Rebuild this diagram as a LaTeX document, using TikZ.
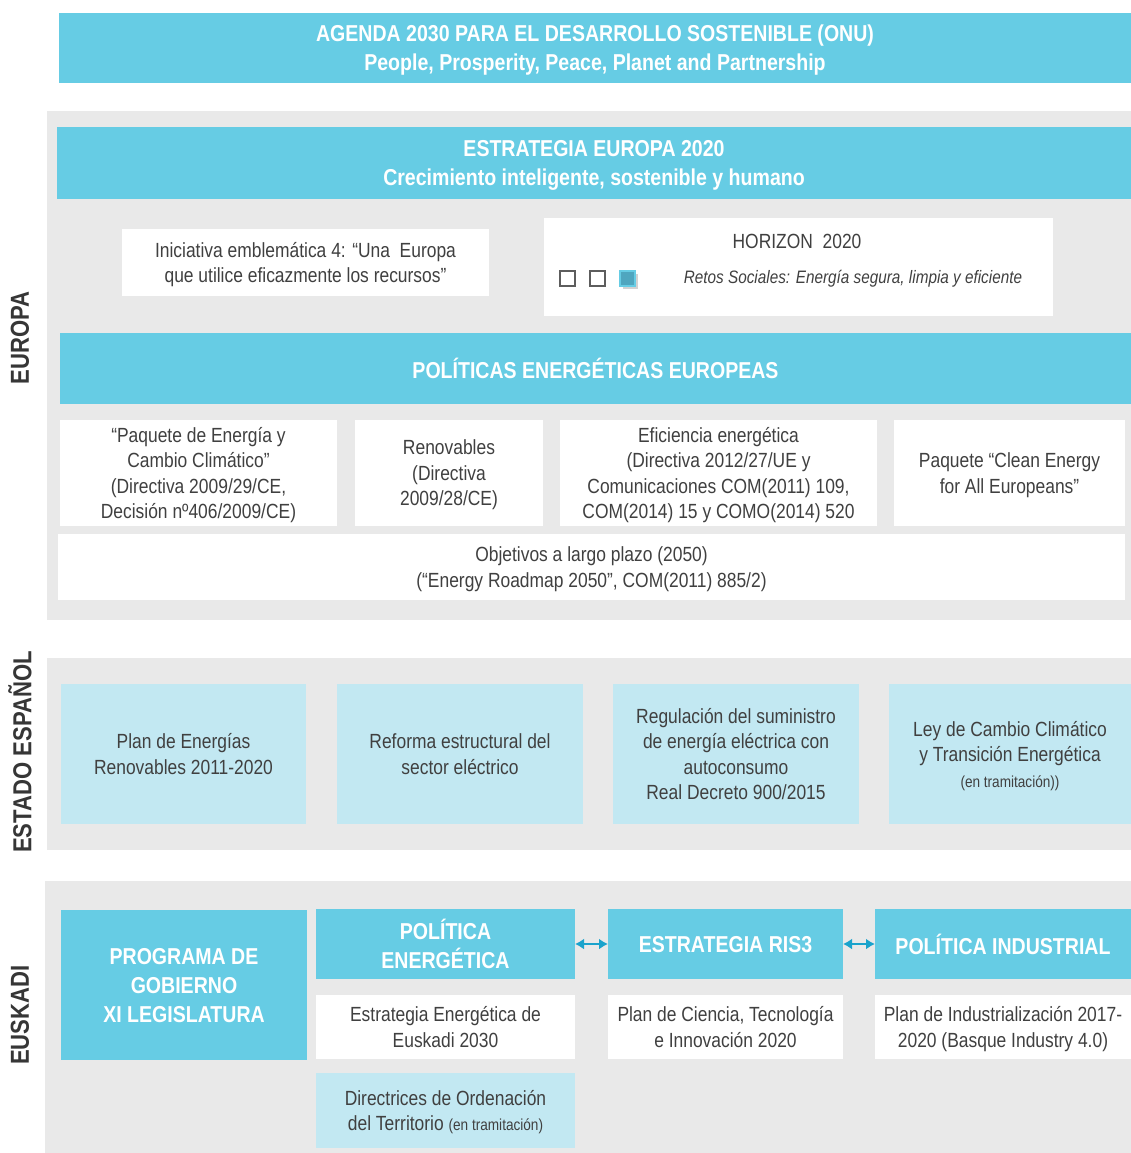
\documentclass[tikz,border=0pt]{standalone}
\usepackage{fontspec}
\setmainfont{Liberation Sans}[FakeStretch=0.85]
\usepackage{tikz}
\usetikzlibrary{arrows.meta,shadows}

\definecolor{cyanbox}{HTML}{66CCE4}
\definecolor{lightbox}{HTML}{C2E8F2}
\definecolor{panel}{HTML}{E9E9E9}
\definecolor{txt}{HTML}{404040}
\definecolor{arrowblue}{HTML}{1AA3CC}
\definecolor{squarefill}{HTML}{4FA6BF}

\tikzset{
  headbox/.style={fill=cyanbox,text=white,font=\fontsize{23}{29}\selectfont\bfseries,align=center,inner sep=0pt,outer sep=0pt,text depth=0pt},
  whitebox/.style={fill=white,text=txt,font=\fontsize{20.5}{25.5}\selectfont,align=center,inner sep=0pt,outer sep=0pt,text depth=0pt},
  softbox/.style={whitebox,fill=lightbox},
  sidelabel/.style={rotate=90,text=txt!85!black,font=\fontsize{26}{30}\selectfont\bfseries},
  sqbox/.style={draw=txt!85,line width=1.4pt,minimum size=15pt,inner sep=0pt},
  link/.style={arrowblue,line width=2.5pt,{Latex[length=9pt,width=11pt]}-{Latex[length=9pt,width=11pt]}},
}
\newcommand{\smalltxt}{\fontsize{16}{20}\selectfont}

\begin{document}
\begin{tikzpicture}[x=1pt,y=-1pt]
\useasboundingbox[fill=white] (0,0) rectangle (1131,1153);

% ONU
\node[headbox,minimum width=1072pt,minimum height=70pt] (agenda) at (595,48)
  {AGENDA 2030 PARA EL DESARROLLO SOSTENIBLE (ONU)\\ People, Prosperity, Peace, Planet and Partnership};

% Europa
\fill[panel] (47,111) rectangle (1131,620);
\node[sidelabel] (europa) at (20,338) {EUROPA};
\node[headbox,minimum width=1074pt,minimum height=71pt] (estrategia) at (594,163)
  {ESTRATEGIA EUROPA 2020\\ Crecimiento inteligente, sostenible y humano};
\node[whitebox,minimum width=367pt,minimum height=67pt] (iniciativa) at (305.5,262.5)
  {Iniciativa emblem\'atica 4: “Una\ \ Europa\\ que utilice eficazmente los recursos”};
\node[whitebox,minimum width=509pt,minimum height=98pt] (horizon) at (798.5,267) {};
\node[text=txt,font=\fontsize{20.5}{25}\selectfont] (horizontitle) at (797,241) {HORIZON\ \ 2020};
\node[sqbox] (sqa) at (567.5,278.5) {};
\node[sqbox] (sqb) at (597.5,278.5) {};
\node[sqbox,draw=cyanbox,fill=squarefill,drop shadow={opacity=0.35}] (sqc) at (627.5,278.5) {};
\node[text=txt,font=\fontsize{18}{22}\selectfont\itshape] (retos) at (853,279)
  {Retos Sociales: Energía segura, limpia y eficiente};
\node[headbox,minimum width=1071pt,minimum height=71pt] (politicas) at (595.5,368.5)
  {POLÍTICAS ENERGÉTICAS EUROPEAS};
\node[whitebox,minimum width=277pt,minimum height=106pt] (paquete) at (198.5,473)
  {“Paquete de Energía y\\ Cambio Climático”\\ (Directiva 2009/29/CE,\\ Decisión nº406/2009/CE)};
\node[whitebox,minimum width=188pt,minimum height=106pt] (renovables) at (449,473)
  {Renovables\\ (Directiva\\ 2009/28/CE)};
\node[whitebox,minimum width=317pt,minimum height=106pt] (eficiencia) at (718.5,473)
  {Eficiencia energética\\ (Directiva 2012/27/UE y\\ Comunicaciones COM(2011) 109,\\ COM(2014) 15 y COMO(2014) 520};
\node[whitebox,minimum width=231pt,minimum height=106pt] (clean) at (1009.5,473)
  {Paquete “Clean Energy\\ for All Europeans”};
\node[whitebox,minimum width=1067pt,minimum height=66pt] (objetivos) at (591.5,567)
  {Objetivos a largo plazo (2050)\\ (“Energy Roadmap 2050”, COM(2011) 885/2)};

% Estado
\fill[panel] (47,658) rectangle (1131,850);
\node[sidelabel] (estado) at (20,752) {ESTADO ESPAÑOL};
\node[softbox,minimum width=245pt,minimum height=140pt] (plan) at (183.5,754)
  {Plan de Energías\\ Renovables 2011-2020};
\node[softbox,minimum width=246pt,minimum height=140pt] (reforma) at (460,754)
  {Reforma estructural del\\ sector eléctrico};
\node[softbox,minimum width=246pt,minimum height=140pt] (regulacion) at (736,754)
  {Regulación del suministro\\ de energía eléctrica con\\ autoconsumo\\ Real Decreto 900/2015};
\node[softbox,minimum width=242pt,minimum height=140pt] (ley) at (1010,754)
  {Ley de Cambio Climático\\ y Transición Energética\\ {\smalltxt(en tramitación))}};

% Euskadi
\fill[panel] (45,881) rectangle (1131,1153);
\node[sidelabel] (euskadi) at (20,1015) {EUSKADI};
\node[headbox,minimum width=246pt,minimum height=150pt] (programa) at (184,985)
  {PROGRAMA DE\\ GOBIERNO\\ XI LEGISLATURA};
\node[headbox,minimum width=259pt,minimum height=70pt] (polenergia) at (445.5,944)
  {POLÍTICA\\ ENERGÉTICA};
\node[headbox,minimum width=235pt,minimum height=70pt] (ris) at (725.5,944)
  {ESTRATEGIA RIS3};
\node[headbox,minimum width=256pt,minimum height=70pt] (polindustrial) at (1003,944)
  {POLÍTICA INDUSTRIAL};
\node[whitebox,minimum width=259pt,minimum height=64pt] (estrateus) at (445.5,1027)
  {Estrategia Energética de\\ Euskadi 2030};
\node[whitebox,minimum width=235pt,minimum height=64pt] (ciencia) at (725.5,1027)
  {Plan de Ciencia, Tecnología\\ e Innovación 2020};
\node[whitebox,minimum width=256pt,minimum height=64pt] (industria) at (1003,1027)
  {Plan de Industrialización 2017-\\ 2020 (Basque Industry 4.0)};
\node[softbox,minimum width=259pt,minimum height=75pt] (directrices) at (445.5,1110.5)
  {Directrices de Ordenación\\ del Territorio {\smalltxt(en tramitación)}};

\draw[link] (polenergia.east) -- (ris.west);
\draw[link] (ris.east) -- (polindustrial.west);
\end{tikzpicture}
\end{document}
